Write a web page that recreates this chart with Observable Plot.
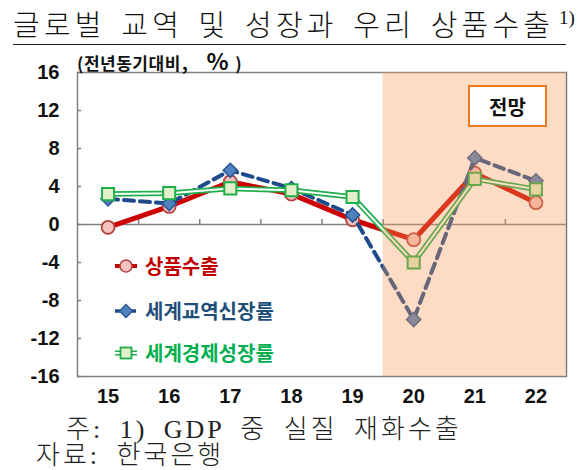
<!DOCTYPE html>
<html>
<head>
<meta charset="utf-8">
<script src="https://cdn.jsdelivr.net/npm/d3@7"></script>
<script src="https://cdn.jsdelivr.net/npm/@observablehq/plot@0.6"></script>
<style>
  html, body { margin: 0; padding: 0; background: #fff; }
  #wrap { position: relative; width: 582px; height: 470px; overflow: hidden; background: #fff; }
  .abs { position: absolute; white-space: nowrap; }
  #title { left: 13px; top: 3px; font-family: "Noto Sans CJK KR", sans-serif; font-weight: 300; font-size: 29px; line-height: 40px; letter-spacing: 4.2px; word-spacing: 5px; color: #111; }
  #titleLine { left: 13px; top: 44px; width: 553px; height: 1px; background: #222; }
  #sup { left: 559px; top: 8px; font-family: "Liberation Serif", serif; font-size: 19px; line-height: 19px; color: #111; }
  #plot { left: 0; top: 50px; }
  #sub { left: 77px; top: 48px; font-family: "Noto Sans CJK KR", sans-serif; font-weight: 700; font-size: 17px; line-height: 24px; letter-spacing: 0.5px; color: #111; }
  #sub .comma { font-size: 19px; margin-left: 1px; margin-right: 18px; }
  #sub .pct { font-size: 23px; margin-right: 6px; }
  #badge { left: 468px; top: 85px; width: 79px; height: 42px; box-sizing: border-box; border: 2.5px solid #eb7a1c; background: #fff;
           display: flex; align-items: center; justify-content: center; font-family: "Noto Sans CJK KR", sans-serif; font-weight: 700; font-size: 20px; color: #111; }
  .leg { font-family: "Noto Sans CJK KR", sans-serif; font-weight: 700; font-size: 20px; line-height: 28px; display: flex; align-items: center; }
  .leg svg { margin-right: 7px; }
  .foot { font-family: "Liberation Serif", "Noto Sans CJK KR", serif; font-weight: 300; font-size: 26px; line-height: 24px; letter-spacing: 3px; word-spacing: 7px; color: #222; }
</style>
</head>
<body>
<div id="wrap">
  <div id="title" class="abs">글로벌 교역 및 성장과 우리 상품수출</div>
  <div id="titleLine" class="abs"></div>
  <div id="sup" class="abs">1)</div>
  <div id="plot" class="abs"></div>
  <div id="sub" class="abs">(전년동기대비<span class="comma">,</span><span class="pct">%</span>)</div>
  <div id="badge" class="abs">전망</div>
  <div id="legend"></div>
  <div class="abs foot" style="left:66px; top:418px;">주: 1) GDP 중 실질 재화수출</div>
  <div class="abs foot" style="left:36px; top:444px;">자료: 한국은행</div>
</div>
<script>
// ---- data ----
const years = [15, 16, 17, 18, 19, 20, 21, 22];
const yearLabels = ["15", "16", "17", "18", "19", "20", "21", "22"];
const exportsGrowth = [-0.3, 1.9, 4.5, 3.2, 0.5, -1.6, 5.4, 2.3];   // 상품수출
const tradeGrowth   = [2.7, 2.2, 5.7, 3.8, 1.0, -10.0, 7.0, 4.6];  // 세계교역신장률
const worldGdp      = [3.2, 3.3, 3.8, 3.6, 2.9, -4.0, 4.8, 3.7];   // 세계경제성장률
const forecastYears = [20, 21, 22];
const yTicks = [-16, -12, -8, -4, 0, 4, 8, 12, 16];
const seriesNames = ["상품수출", "세계교역신장률", "세계경제성장률"];

const toRows = vals => years.map((yr, i) => ({year: yr, value: vals[i]}));
const exportsRows = toRows(exportsGrowth);
const tradeRows = toRows(tradeGrowth);
const gdpRows = toRows(worldGdp);
const boundaries = years.slice(1).map(yr => yr - 0.5);
const forecastBand = [{x1: forecastYears[0] - 0.5, x2: forecastYears[forecastYears.length - 1] + 0.5}];

const RED = "#cc0000", RED_FILL = "#f4c3c1", RED_EDGE = "#b4443e";
const BLUE = "#1d4a8a", BLUE_FILL = "#4f81bd", BLUE_EDGE = "#2a5594";
const GREEN = "#1fae4a", GREEN_FILL = "#e3efcb";
const GRAY = "#808080";

const chart = Plot.plot({
  width: 582,
  height: 370,
  marginTop: 22,
  marginBottom: 44,
  marginLeft: 77,
  marginRight: 16,
  style: {fontFamily: "Liberation Sans, Arial, sans-serif", fontSize: "20px", fontWeight: "bold", color: "#111", background: "transparent", overflow: "visible"},
  x: {domain: [years[0] - 0.5, years[years.length - 1] + 0.5], label: null},
  y: {domain: [yTicks[0], yTicks[yTicks.length - 1]], label: null},
  marks: [
    Plot.frame({stroke: GRAY, strokeWidth: 1.5}),
    Plot.ruleY([0], {stroke: GRAY, strokeWidth: 1.5}),
    Plot.ruleX(boundaries, {x: d => d, y1: 0, y2: 0, insetTop: -5, stroke: GRAY, strokeWidth: 1.5}),
    // 상품수출
    Plot.line(exportsRows, {x: "year", y: "value", stroke: RED, strokeWidth: 5, strokeLinejoin: "round"}),
    Plot.dot(exportsRows, {x: "year", y: "value", r: 6.5, fill: RED_FILL, stroke: RED_EDGE, strokeWidth: 1.8}),
    // 세계교역신장률
    Plot.line(tradeRows, {x: "year", y: "value", stroke: BLUE, strokeWidth: 4, strokeDasharray: "10,6"}),
    Plot.dot(tradeRows, {x: "year", y: "value", symbol: "diamond2", r: 6.4, fill: BLUE_FILL, stroke: BLUE_EDGE, strokeWidth: 1.5}),
    // 세계경제성장률
    Plot.line(gdpRows, {x: "year", y: "value", stroke: GREEN, strokeWidth: 5.5}),
    Plot.line(gdpRows, {x: "year", y: "value", stroke: "#ffffff", strokeWidth: 2}),
    Plot.dot(gdpRows, {x: "year", y: "value", symbol: "square", r: 6.8, fill: GREEN_FILL, stroke: GREEN, strokeWidth: 2}),
    // forecast shading (translucent, over the lines)
    Plot.rect(forecastBand, {x1: "x1", x2: "x2", y1: yTicks[0], y2: yTicks[yTicks.length - 1], fill: "#f79a55", fillOpacity: 0.35}),
    Plot.axisY({ticks: yTicks, label: null, tickSize: -4, tickPadding: 22, stroke: GRAY, strokeWidth: 1.5, tickFormat: d => (d < 0 ? "-" + Math.abs(d) : String(d)), fontSize: 20, fill: "#111"}),
    Plot.axisX({ticks: years, label: null, tickSize: 0, tickPadding: 12, tickFormat: d => yearLabels[years.indexOf(d)], fontSize: 20, fill: "#111"})
  ]
});
document.getElementById("plot").appendChild(chart);

// ---- legend ----
const legend = document.getElementById("legend");
const iconRed = `<svg width="24" height="16"><line x1="1" y1="8" x2="23" y2="8" stroke="${RED}" stroke-width="4"/><circle cx="12" cy="8" r="6" fill="${RED_FILL}" stroke="${RED_EDGE}" stroke-width="1.6"/></svg>`;
const iconBlue = `<svg width="24" height="16"><line x1="1" y1="8" x2="23" y2="8" stroke="${BLUE}" stroke-width="3.5" stroke-dasharray="5,3"/><path d="M12,1.5 L18.5,8 L12,14.5 L5.5,8 Z" fill="${BLUE_FILL}" stroke="${BLUE_EDGE}" stroke-width="1.3"/></svg>`;
const iconGreen = `<svg width="24" height="16"><line x1="1" y1="8" x2="23" y2="8" stroke="${GREEN}" stroke-width="5"/><line x1="1" y1="8" x2="23" y2="8" stroke="#fff" stroke-width="2"/><rect x="6.5" y="2.5" width="11" height="11" fill="${GREEN_FILL}" stroke="${GREEN}" stroke-width="1.8"/></svg>`;
const legendItems = [
  {name: seriesNames[0], color: "#c00000", icon: iconRed, top: 252},
  {name: seriesNames[1], color: "#1f4e79", icon: iconBlue, top: 297},
  {name: seriesNames[2], color: "#00b050", icon: iconGreen, top: 339}
];
legendItems.forEach(it => {
  const d = document.createElement("div");
  d.className = "abs leg";
  d.style.left = "114px";
  d.style.top = it.top + "px";
  d.style.color = it.color;
  d.innerHTML = it.icon + `<span>${it.name}</span>`;
  legend.appendChild(d);
});
</script>
</body>
</html>
